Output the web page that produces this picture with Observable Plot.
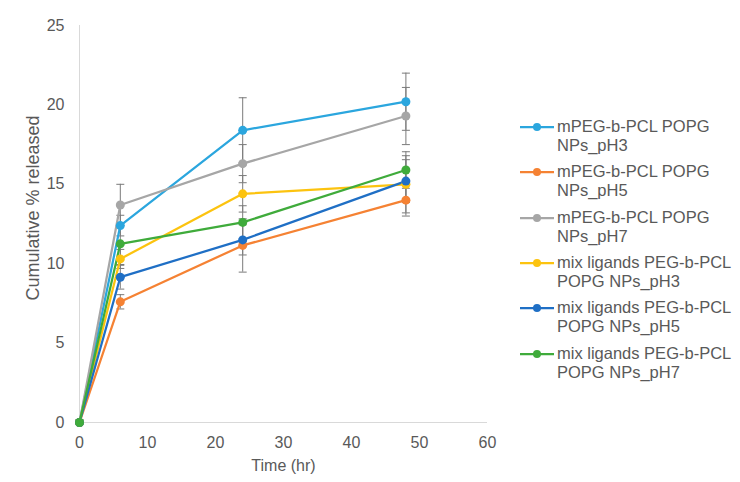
<!DOCTYPE html>
<html>
<head>
<meta charset="utf-8">
<script src="https://cdn.jsdelivr.net/npm/d3@7"></script>
<script src="https://cdn.jsdelivr.net/npm/@observablehq/plot@0.6"></script>
<style>
  html, body { margin: 0; padding: 0; background: #fff; }
  #wrap { position: relative; width: 740px; height: 482px; font-family: "Liberation Sans", Arial, sans-serif; }
  #legend { position: absolute; left: 520px; top: 0; }
  .item { position: absolute; left: 0; width: 220px; display: flex; align-items: flex-start; }
  .item svg { flex: none; margin-top: 1px; }
  .item span { display: block; width: 185px; margin-left: 3px; font-size: 16.5px; line-height: 19px; color: #595959; }
</style>
</head>
<body>
<div id="wrap"><div id="chart"></div><div id="legend"></div></div>
<script>
const times = [0, 6, 24, 48];
const seriesNames = [
  "mPEG-b-PCL POPG NPs_pH3",
  "mPEG-b-PCL POPG NPs_pH5",
  "mPEG-b-PCL POPG NPs_pH7",
  "mix ligands PEG-b-PCL POPG NPs_pH3",
  "mix ligands PEG-b-PCL POPG NPs_pH5",
  "mix ligands PEG-b-PCL POPG NPs_pH7"
];
const seriesColors = ["#2ba6de", "#f58233", "#a6a6a6", "#fcc30f", "#1f6fc5", "#3fab3b"];

const mPEG_pH3 = [0, 12.4, 18.4, 20.2];
const mPEG_pH5 = [0, 7.6, 11.15, 14.0];
const mPEG_pH7 = [0, 13.7, 16.3, 19.3];
const mix_pH3  = [0, 10.3, 14.4, 15.0];
const mix_pH5  = [0, 9.15, 11.5, 15.2];
const mix_pH7  = [0, 11.25, 12.6, 15.9];

const err_mPEG_pH3 = [0, 0.65, 2.05, 1.8];
const err_mPEG_pH5 = [0, 0.45, 1.68, 1.0];
const err_mPEG_pH7 = [0, 1.3, 1.2, 1.8];
const err_mix_pH3  = [0, 0.6, 1.15, 1.8];
const err_mix_pH5  = [0, 0.75, 0.95, 1.35];
const err_mix_pH7  = [0, 1.3, 1.05, 1.15];

const xTicks = [0, 10, 20, 30, 40, 50, 60];
const yTicks = [0, 5, 10, 15, 20, 25];

const values = [mPEG_pH3, mPEG_pH5, mPEG_pH7, mix_pH3, mix_pH5, mix_pH7];
const errors = [err_mPEG_pH3, err_mPEG_pH5, err_mPEG_pH7, err_mix_pH3, err_mix_pH5, err_mix_pH7];

const rows = [];
seriesNames.forEach((s, i) => {
  times.forEach((t, j) => {
    rows.push({s, t, v: values[i][j], e: errors[i][j], lo: values[i][j] - errors[i][j], hi: values[i][j] + errors[i][j]});
  });
});
const errRows = rows.filter(d => d.e > 0);

const capSymbol = {
  draw(context, size) {
    const r = Math.sqrt(size / Math.PI);
    context.moveTo(-r, 0);
    context.lineTo(r, 0);
  }
};

const errColor = "#7a7a7a";

const chart = Plot.plot({
  width: 740,
  height: 482,
  marginLeft: 79,
  marginRight: 253,
  marginTop: 25,
  marginBottom: 60,
  style: {fontFamily: "'Liberation Sans', Arial, sans-serif", fontSize: "16px", color: "#595959", background: "transparent"},
  x: {domain: [0, 60]},
  y: {domain: [0, 25]},
  color: {domain: seriesNames, range: seriesColors},
  marks: [
    Plot.ruleY([0], {stroke: "#d9d9d9", strokeWidth: 1}),
    Plot.ruleX([0], {stroke: "#d9d9d9", strokeWidth: 1}),
    Plot.axisX({ticks: xTicks, tickSize: 0, tickPadding: 14, label: null, fontSize: 16}),
    Plot.axisY({ticks: yTicks, tickSize: 0, tickPadding: 15, label: null, fontSize: 16}),
    Plot.text(["Time (hr)"], {frameAnchor: "bottom", dy: 43, textAnchor: "middle", lineAnchor: "middle", fontSize: 16, fill: "#595959"}),
    Plot.text(["Cumulative % released"], {frameAnchor: "left", rotate: -90, dx: -46, dy: -16, textAnchor: "middle", lineAnchor: "middle", fontSize: 18, fill: "#595959"}),
    Plot.ruleX(errRows, {x: "t", y1: "lo", y2: "hi", stroke: errColor, strokeWidth: 1}),
    Plot.dot(errRows, {x: "t", y: "lo", symbol: capSymbol, r: 4, fill: "none", stroke: errColor, strokeWidth: 1}),
    Plot.dot(errRows, {x: "t", y: "hi", symbol: capSymbol, r: 4, fill: "none", stroke: errColor, strokeWidth: 1}),
    Plot.line(rows, {x: "t", y: "v", z: "s", stroke: "s", strokeWidth: 2.25}),
    Plot.dot(rows, {x: "t", y: "v", fill: "s", r: 4.5, stroke: "none"})
  ]
});
document.getElementById("chart").appendChild(chart);

const legend = document.getElementById("legend");
seriesNames.forEach((s, i) => {
  const item = document.createElement("div");
  item.className = "item";
  item.style.top = (117 + i * 45.3) + "px";
  const ns = "http://www.w3.org/2000/svg";
  const svg = document.createElementNS(ns, "svg");
  svg.setAttribute("width", 34);
  svg.setAttribute("height", 18);
  const line = document.createElementNS(ns, "line");
  line.setAttribute("x1", 0); line.setAttribute("x2", 34);
  line.setAttribute("y1", 9); line.setAttribute("y2", 9);
  line.setAttribute("stroke", seriesColors[i]); line.setAttribute("stroke-width", 2.25);
  const c = document.createElementNS(ns, "circle");
  c.setAttribute("cx", 17); c.setAttribute("cy", 9); c.setAttribute("r", 4);
  c.setAttribute("fill", seriesColors[i]);
  svg.appendChild(line); svg.appendChild(c);
  const span = document.createElement("span");
  span.textContent = s;
  item.appendChild(svg); item.appendChild(span);
  legend.appendChild(item);
});
</script>
</body>
</html>
